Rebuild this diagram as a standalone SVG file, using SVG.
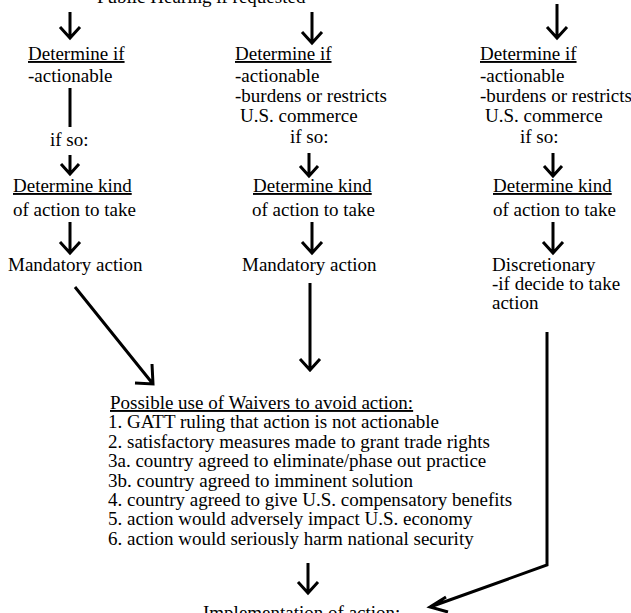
<svg xmlns="http://www.w3.org/2000/svg" width="631" height="613" viewBox="0 0 631 613">
<style>
text{font-family:"Liberation Serif","Times New Roman",serif;font-size:19px;fill:#000}
.u{text-decoration:underline}
.c path{fill:none;stroke:#000;stroke-width:3;stroke-linecap:butt;stroke-linejoin:miter}
</style>
<rect width="631" height="613" fill="#fff"/>
<g id="hearing"><text x="97" y="3">Public Hearing if requested</text></g>
<g id="col1-determine"><text x="28" y="60" class="u">Determine if</text><text x="28" y="82">-actionable</text></g>
<g id="col1-ifso"><text x="50" y="146">if so:</text></g>
<g id="col1-kind"><text x="13" y="192" class="u">Determine kind</text><text x="13" y="216">of action to take</text></g>
<g id="col1-mandatory"><text x="8" y="271">Mandatory action</text></g>
<g id="col2-determine"><text x="235" y="60" class="u">Determine if</text><text x="235" y="82">-actionable</text><text x="235" y="102">-burdens or restricts</text><text x="240" y="122">U.S. commerce</text></g>
<g id="col2-ifso"><text x="290" y="143">if so:</text></g>
<g id="col2-kind"><text x="253" y="192" class="u">Determine kind</text><text x="252" y="216">of action to take</text></g>
<g id="col2-mandatory"><text x="242" y="271">Mandatory action</text></g>
<g id="col3-determine"><text x="480" y="60" class="u">Determine if</text><text x="480" y="82">-actionable</text><text x="480" y="102">-burdens or restricts</text><text x="485" y="122">U.S. commerce</text></g>
<g id="col3-ifso"><text x="520" y="143">if so:</text></g>
<g id="col3-kind"><text x="493" y="192" class="u">Determine kind</text><text x="493" y="216">of action to take</text></g>
<g id="col3-discretionary"><text x="492" y="271">Discretionary</text><text x="492" y="290">-if decide to take</text><text x="492" y="309">action</text></g>
<g id="waivers">
<text x="110" y="409" class="u">Possible use of Waivers to avoid action:</text>
<text x="108" y="428">1. GATT ruling that action is not actionable</text>
<text x="108" y="448">2. satisfactory measures made to grant trade rights</text>
<text x="108" y="467">3a. country agreed to eliminate/phase out practice</text>
<text x="108" y="487">3b. country agreed to imminent solution</text>
<text x="108" y="506">4. country agreed to give U.S. compensatory benefits</text>
<text x="108" y="525">5. action would adversely impact U.S. economy</text>
<text x="108" y="545">6. action would seriously harm national security</text>
</g>
<g id="implementation"><text x="203" y="619">Implementation of action:</text></g>
<g id="connectors" class="c">
<path d="M70 12V38M60 27L70 38L80 27"/>
<path d="M312 12V43M302 32L312 43L322 32"/>
<path d="M557 4V38M547 27L557 38L567 27"/>
<path d="M70 88V127"/>
<path d="M70 155V174M61 164L70 174L79 164"/>
<path d="M309 153V176M300 166L309 176L318 166"/>
<path d="M553 153V176M544 166L553 176L562 166"/>
<path d="M70 222V253M60 242L70 253L80 242"/>
<path d="M312 222V253M302 242L312 253L322 242"/>
<path d="M553 222V253M543 242L553 253L563 242"/>
<path d="M75 287L153 384M135 383L153 384L152 364"/>
<path d="M310 283V370M300 359L310 370L320 359"/>
<path d="M308 563V593M298 582L308 593L318 582"/>
<path d="M547 332V565L430 607M446 597L430 607L448 612"/>
</g>
</svg>
